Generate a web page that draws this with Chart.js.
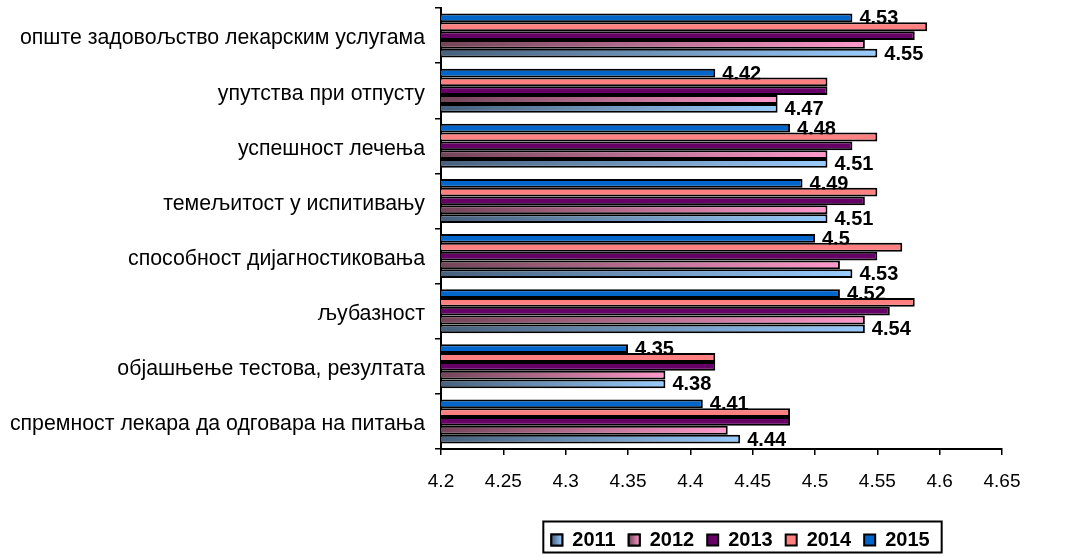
<!DOCTYPE html>
<html>
<head>
<meta charset="utf-8">
<title>Задовољство лекарским услугама</title>
<script src="https://cdn.jsdelivr.net/npm/chart.js@4.4.1/dist/chart.umd.min.js"></script>
<style>
  html, body { margin: 0; padding: 0; background: #fff; }
  #chart { display: block; }
</style>
</head>
<body>
<canvas id="chart" width="1071" height="558"></canvas>
<script>
// categories, top to bottom
const categories = [
  'опште задовољство лекарским услугама',
  'упутства при отпусту',
  'успешност лечења',
  'темељитост у испитивању',
  'способност дијагностиковања',
  'љубазност',
  'објашњење тестова, резултата',
  'спремност лекара да одговара на питања'
]

const values2011 = [4.55, 4.47, 4.51, 4.51, 4.53, 4.54, 4.38, 4.44]
const values2012 = [4.54, 4.47, 4.51, 4.51, 4.52, 4.54, 4.38, 4.43]
const values2013 = [4.58, 4.51, 4.53, 4.54, 4.55, 4.56, 4.42, 4.48]
const values2014 = [4.59, 4.51, 4.55, 4.55, 4.57, 4.58, 4.42, 4.48]
const values2015 = [4.53, 4.42, 4.48, 4.49, 4.50, 4.52, 4.35, 4.41]

const xMin = 4.2
const xMax = 4.65
const xStep = 0.05

const FONT = "Arial, 'Liberation Sans', sans-serif"

// horizontal gradient per bar, dark at the axis, light at the bar end
function gradientFill(from, to) {
  return (ctx) => {
    const chart = ctx.chart
    const area = chart.chartArea
    if (ctx.type !== 'data' || !area || !chart.scales.x) return to
    const end = chart.scales.x.getPixelForValue(ctx.raw)
    const g = chart.ctx.createLinearGradient(area.left, 0, end, 0)
    g.addColorStop(0, from)
    g.addColorStop(1, to)
    return g
  }
}

const gradients = {
  '2011': ['#46607c', '#99ccff'],
  '2012': ['#744559', '#ff99cc']
}

// value labels, drawn before the bars so the next bar cuts into them like the original
const valueLabels = {
  id: 'valueLabels',
  beforeDatasetsDraw(chart) {
    const ctx = chart.ctx
    ctx.save()
    ctx.font = 'bold 20px ' + FONT
    ctx.fillStyle = '#000'
    ctx.textBaseline = 'middle'
    ctx.textAlign = 'left'
    chart.data.datasets.forEach((ds, i) => {
      if (!ds.showValues) return
      chart.getDatasetMeta(i).data.forEach((bar, j) => {
        ctx.fillText(String(ds.data[j]), bar.x + 7, bar.y + 1)
      })
    })
    ctx.restore()
  }
}

// legend: move it under the bars, frame it and paint gradient swatches
const legendFrame = {
  id: 'legendFrame',
  afterLayout(chart) {
    const lg = chart.legend
    lg.left += 19
    lg.right += 19
    lg.top += 2
    lg.bottom += 2
  },
  afterDraw(chart) {
    const lg = chart.legend
    const boxes = lg.legendHitBoxes
    if (!boxes || !boxes.length) return
    const ctx = chart.ctx
    ctx.save()
    lg.legendItems.forEach((item, i) => {
      const label = chart.data.datasets[item.datasetIndex].label
      const stops = gradients[label]
      if (!stops) return
      const hb = boxes[i]
      const x = hb.left
      const y = hb.top + (20 - 11) / 2
      const g = ctx.createLinearGradient(x, 0, x + 11, 0)
      g.addColorStop(0, stops[0])
      g.addColorStop(1, stops[1])
      ctx.fillStyle = g
      ctx.strokeStyle = '#000'
      ctx.lineWidth = 2
      ctx.beginPath()
      ctx.rect(x, y, 11, 11)
      ctx.fill()
      ctx.stroke()
    })
    const first = boxes[0]
    const last = boxes[boxes.length - 1]
    const left = first.left - 8
    const right = last.left + last.width + 12
    const top = first.top - 8.5
    ctx.strokeStyle = '#000'
    ctx.lineWidth = 2
    ctx.strokeRect(left, top, right - left, 31)
    ctx.restore()
  }
}

const barStyle = {
  borderColor: '#000',
  borderWidth: 2,
  borderSkipped: 'start',
  categoryPercentage: 0.8,
  barPercentage: 1.0
}

new Chart(document.getElementById('chart'), {
  type: 'bar',
  data: {
    labels: categories,
    datasets: [
      { label: '2015', data: values2015, backgroundColor: '#0066cc', showValues: true, ...barStyle },
      { label: '2014', data: values2014, backgroundColor: '#ff8080', ...barStyle },
      { label: '2013', data: values2013, backgroundColor: '#660066', ...barStyle },
      { label: '2012', data: values2012, backgroundColor: gradientFill(...gradients['2012']), ...barStyle },
      { label: '2011', data: values2011, backgroundColor: gradientFill(...gradients['2011']), showValues: true, ...barStyle }
    ]
  },
  options: {
    indexAxis: 'y',
    responsive: false,
    animation: false,
    devicePixelRatio: 1,
    layout: { padding: { top: 8, right: 69, bottom: 0, left: 0 } },
    scales: {
      x: {
        min: xMin,
        max: xMax,
        afterFit(scale) { scale.height = 66 },
        ticks: {
          stepSize: xStep,
          padding: 15,
          color: '#000',
          font: { family: FONT, size: 19 },
          callback: (v) => String(parseFloat(Number(v).toFixed(2)))
        },
        grid: { drawOnChartArea: false, drawTicks: true, tickLength: 6, color: '#000', lineWidth: 1.5 },
        border: { display: true, color: '#000', width: 2 }
      },
      y: {
        afterFit(scale) {
          scale.width = 441
          scale.paddingTop = 0
          scale.paddingBottom = 0
        },
        ticks: {
          padding: 10,
          labelOffset: 3,
          color: '#000',
          font: { family: FONT, size: 21.3 }
        },
        grid: { drawOnChartArea: false, drawTicks: true, tickLength: 6, color: '#000', lineWidth: 1.5, offset: true },
        border: { display: true, color: '#000', width: 2 }
      }
    },
    plugins: {
      tooltip: { enabled: false },
      legend: {
        position: 'bottom',
        fullSize: false,
        reverse: true,
        labels: {
          boxWidth: 11,
          boxHeight: 11,
          padding: 13,
          color: '#000',
          font: { family: FONT, size: 20, weight: 'bold' }
        }
      }
    }
  },
  plugins: [valueLabels, legendFrame]
})
</script>
</body>
</html>
